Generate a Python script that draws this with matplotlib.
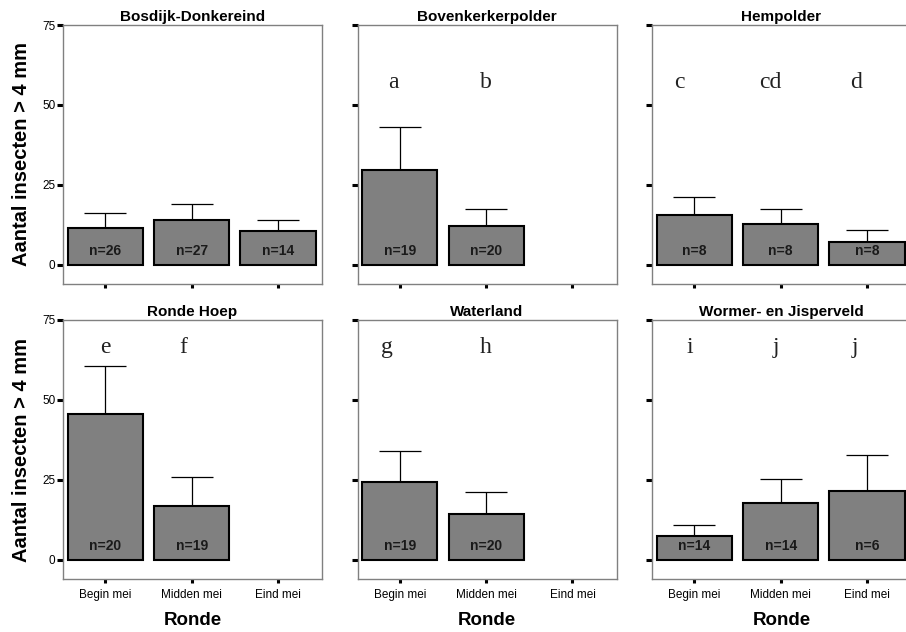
import numpy as np
import matplotlib
matplotlib.use("Agg")
import matplotlib.pyplot as plt

plt.rcParams["font.family"] = ["Liberation Sans", "DejaVu Sans"]

# Data: mean number of insects > 4 mm per sampling round, with upper error
rounds = ["Begin mei", "Midden mei", "Eind mei"]
sites = ["Bosdijk-Donkereind", "Bovenkerkerpolder", "Hempolder",
         "Ronde Hoep", "Waterland", "Wormer- en Jisperveld"]

mean_bosdijk = [11.6, 14.1, 10.6]
mean_bovenkerker = [29.5, 12.2, np.nan]
mean_hempolder = [15.6, 12.8, 7.1]
mean_rondehoep = [45.6, 16.7, np.nan]
mean_waterland = [24.2, 14.4, np.nan]
mean_wormer = [7.4, 17.9, 21.4]

err_bosdijk = [4.7, 5.0, 3.4]
err_bovenkerker = [13.7, 5.2, np.nan]
err_hempolder = [5.7, 4.6, 3.9]
err_rondehoep = [15.0, 9.2, np.nan]
err_waterland = [9.8, 6.9, np.nan]
err_wormer = [3.4, 7.5, 11.5]

n_bosdijk = [26, 27, 14]
n_bovenkerker = [19, 20, None]
n_hempolder = [8, 8, 8]
n_rondehoep = [20, 19, None]
n_waterland = [19, 20, None]
n_wormer = [14, 14, 6]

letters_bosdijk = [None, None, None]
letters_bovenkerker = ["a", "b", None]
letters_hempolder = ["c", "cd", "d"]
letters_rondehoep = ["e", "f", None]
letters_waterland = ["g", "h", None]
letters_wormer = ["i", "j", "j"]

means = [mean_bosdijk, mean_bovenkerker, mean_hempolder,
         mean_rondehoep, mean_waterland, mean_wormer]
errs = [err_bosdijk, err_bovenkerker, err_hempolder,
        err_rondehoep, err_waterland, err_wormer]
ns = [n_bosdijk, n_bovenkerker, n_hempolder,
      n_rondehoep, n_waterland, n_wormer]
letters = [letters_bosdijk, letters_bovenkerker, letters_hempolder,
           letters_rondehoep, letters_waterland, letters_wormer]

# Layout (pixels of a 906 x 632 canvas)
W, H = 906, 632
col_left = [63, 357.5, 652]
row_top = [25, 320]
box_w = box_h = 259
letter_y = [55.3, 64.7]
letter_dx = [[0, 0, 0], [-0.07, 0, 0], [-0.17, -0.12, -0.13],
             [0, -0.1, 0], [-0.15, 0, 0], [-0.05, -0.06, -0.14]]

fig = plt.figure(figsize=(W / 100, H / 100), dpi=100)
x = np.arange(len(rounds))

for i, site in enumerate(sites):
    r, c = divmod(i, 3)
    ax = fig.add_axes([col_left[c] / W, (H - row_top[r] - box_h) / H,
                       box_w / W, box_h / H])
    m = np.array(means[i], dtype=float)
    e = np.array(errs[i], dtype=float)
    ok = ~np.isnan(m)
    ax.errorbar(x[ok], m[ok], yerr=[np.zeros(ok.sum()), e[ok]], fmt="none",
                ecolor="black", elinewidth=0.9, capsize=15, capthick=0.9,
                zorder=1)
    ax.bar(x[ok], m[ok], width=0.87, color="#808080", edgecolor="black",
           linewidth=1.5, zorder=2)
    for k in range(len(rounds)):
        if ns[i][k] is not None:
            ax.text(x[k], 4.3, f"n={ns[i][k]}", ha="center", va="center",
                    fontsize=10, fontweight="bold", color="#1a1a1a", zorder=3)
        if letters[i][k] is not None:
            ax.text(x[k] + letter_dx[i][k], letter_y[r], letters[i][k],
                    ha="center", va="baseline", fontsize=17,
                    family="Liberation Serif", color="#222222")

    ax.set_xlim(-0.49, 2.51)
    ax.set_ylim(-6, 75)
    ax.set_yticks([0, 25, 50, 75])
    ax.set_xticks(x)
    for s in ax.spines.values():
        s.set_color("#808080")
        s.set_linewidth(1.0)
    ax.tick_params(axis="y", direction="out", length=4.5, width=2.2,
                   color="black", pad=1, labelsize=8.5)
    ax.tick_params(axis="x", direction="out", length=3.2, width=2.2,
                   color="black", pad=4, labelsize=8.5)
    if c == 0:
        ax.set_ylabel("Aantal insecten > 4 mm", fontsize=14.5,
                      fontweight="bold", labelpad=8)
    else:
        ax.set_yticklabels([])
    if r == 1:
        ax.set_xticklabels(rounds)
        ax.set_xlabel("Ronde", fontsize=13.5, fontweight="bold", labelpad=8)
    else:
        ax.set_xticklabels([])
    ax.set_title(site, fontsize=11, fontweight="bold", pad=3)

fig.savefig("out.png", dpi=100)
